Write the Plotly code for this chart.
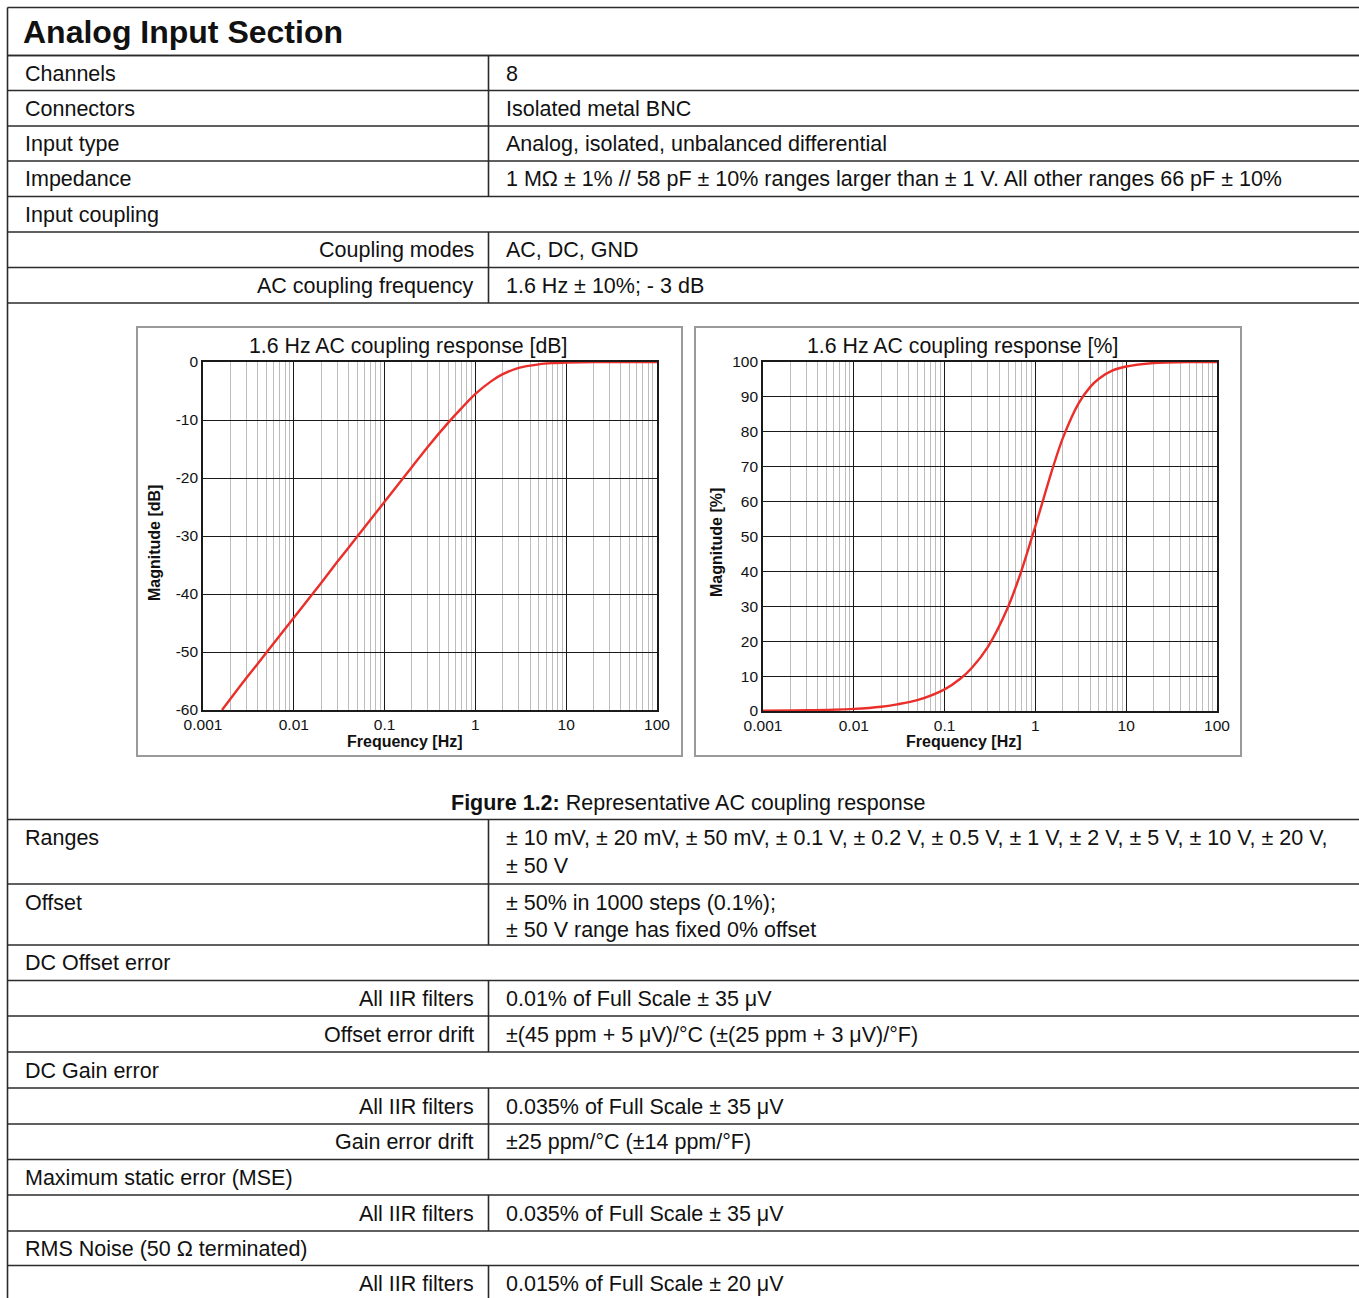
import plotly.graph_objects as go

W, H = 1359, 1298
FONT = "Liberation Sans, Arial, sans-serif"

# ---- AC coupling response curves ----
freq_db = [0.00162, 0.002, 0.003, 0.005, 0.01, 0.02, 0.03, 0.05, 0.1, 0.2, 0.3,
           0.5, 0.7, 1, 1.5, 2, 3, 5, 7, 10, 20, 50, 100]
mag_db = [-60, -58.1, -54.5, -50.1, -44.1, -38.1, -34.5, -30.1, -24.1, -18.1, -14.6,
          -10.5, -8.0, -5.5, -3.3, -2.1, -1.0, -0.4, -0.2, -0.1, -0.03, 0, 0]

freq_pct = [0.001, 0.003, 0.01, 0.02, 0.03, 0.05, 0.1, 0.15, 0.2, 0.3, 0.5, 0.7,
            1, 1.5, 2, 3, 4, 5, 7, 10, 20, 50, 100]
mag_pct = [0.1, 0.2, 0.6, 1.2, 1.9, 3.1, 6.2, 9.3, 12.4, 18.4, 29.8, 40.1,
           53.0, 68.4, 78.1, 88.2, 92.8, 95.2, 97.5, 98.7, 99.7, 100, 100]

freq_ticks = [0.001, 0.01, 0.1, 1, 10, 100]
freq_tick_labels = ["0.001", "0.01", "0.1", "1", "10", "100"]
db_ticks = [0, -10, -20, -30, -40, -50, -60]
db_tick_labels = ["0", "-10", "-20", "-30", "-40", "-50", "-60"]
pct_ticks = [0, 10, 20, 30, 40, 50, 60, 70, 80, 90, 100]
pct_tick_labels = ["0", "10", "20", "30", "40", "50", "60", "70", "80", "90", "100"]

chart_titles = ["1.6 Hz AC coupling response [dB]", "1.6 Hz AC coupling response [%]"]
y_titles = ["Magnitude [dB]", "Magnitude [%]"]
x_title = "Frequency [Hz]"
caption_bold = "Figure 1.2:"
caption_text = " Representative AC coupling response"

# ---- specification table ----
header = "Analog Input Section"
# (kind, label, value lines, top, bottom)
upper_rows = [
    ("main", "Channels", ["8"], 55.5, 90.5),
    ("main", "Connectors", ["Isolated metal BNC"], 90.5, 126),
    ("main", "Input type", ["Analog, isolated, unbalanced differential"], 126, 161),
    ("main", "Impedance", ["1 MΩ ± 1% // 58 pF ± 10% ranges larger than ± 1 V. All other ranges 66 pF ± 10%"], 161, 196.5),
    ("full", "Input coupling", [], 196.5, 232),
    ("sub", "Coupling modes", ["AC, DC, GND"], 232, 267.5),
    ("sub", "AC coupling frequency", ["1.6 Hz ± 10%; - 3 dB"], 267.5, 303),
]
lower_rows = [
    ("main", "Ranges", ["± 10 mV, ± 20 mV, ± 50 mV, ± 0.1 V, ± 0.2 V, ± 0.5 V, ± 1 V, ± 2 V, ± 5 V, ± 10 V, ± 20 V,",
                        "± 50 V"], 819.5, 884),
    ("main", "Offset", ["± 50% in 1000 steps (0.1%);", "± 50 V range has fixed 0% offset"], 884, 945),
    ("full", "DC Offset error", [], 945, 980.5),
    ("sub", "All IIR filters", ["0.01% of Full Scale ± 35 μV"], 980.5, 1016),
    ("sub", "Offset error drift", ["±(45 ppm + 5 μV)/°C (±(25 ppm + 3 μV)/°F)"], 1016, 1052),
    ("full", "DC Gain error", [], 1052, 1088),
    ("sub", "All IIR filters", ["0.035% of Full Scale ± 35 μV"], 1088, 1124),
    ("sub", "Gain error drift", ["±25 ppm/°C (±14 ppm/°F)"], 1124, 1159.5),
    ("full", "Maximum static error (MSE)", [], 1159.5, 1195),
    ("sub", "All IIR filters", ["0.035% of Full Scale ± 35 μV"], 1195, 1231),
    ("full", "RMS Noise (50 Ω terminated)", [], 1231, 1265.5),
    ("sub", "All IIR filters", ["0.015% of Full Scale ± 20 μV"], 1265.5, 1302),
]


def px(x):
    return x / W


def py(y):
    return 1 - min(y, H) / H


fig = go.Figure()
fig.add_trace(go.Scatter(x=freq_db, y=mag_db, mode="lines", xaxis="x", yaxis="y",
                         line=dict(color="#ea2e2a", width=2.4, shape="spline", smoothing=0.8),
                         showlegend=False, hoverinfo="skip"))
fig.add_trace(go.Scatter(x=freq_pct, y=mag_pct, mode="lines", xaxis="x2", yaxis="y2",
                         line=dict(color="#ea2e2a", width=2.4, shape="spline", smoothing=0.8),
                         showlegend=False, hoverinfo="skip"))

minor_vals = [m * 10 ** e for e in range(-3, 2) for m in range(2, 10)]


def x_axis(domain, anchor):
    return dict(type="log", range=[-3, 2], domain=domain, anchor=anchor, automargin=False,
                tickmode="array", tickvals=freq_ticks, ticktext=freq_tick_labels,
                showgrid=True, gridcolor="#1a1a1a", gridwidth=1.4,
                minor=dict(tickmode="array", tickvals=minor_vals, showgrid=True,
                           gridcolor="#bdbdbd", gridwidth=1),
                showline=True, mirror=True, linecolor="#1a1a1a", linewidth=1.6,
                ticks="", zeroline=False, fixedrange=True,
                tickfont=dict(family=FONT, size=15.5, color="#111"))


def y_axis(domain, anchor, rng, ticks, labels):
    return dict(range=rng, domain=domain, anchor=anchor, automargin=False,
                tickmode="array", tickvals=ticks, ticktext=labels,
                showgrid=True, gridcolor="#1a1a1a", gridwidth=1.4,
                showline=True, mirror=True, linecolor="#1a1a1a", linewidth=1.6,
                ticks="", zeroline=False, fixedrange=True,
                tickfont=dict(family=FONT, size=15.5, color="#111"))


fig.update_layout(
    width=W, height=H, autosize=False,
    margin=dict(l=0, r=0, t=0, b=0, pad=0, autoexpand=False),
    paper_bgcolor="white", plot_bgcolor="white",
    font=dict(family=FONT, color="#111"),
    xaxis=x_axis([px(203), px(657)], "y"),
    yaxis=y_axis([py(710), py(362)], "x", [-60, 0], db_ticks, db_tick_labels),
    xaxis2=x_axis([px(763), px(1217)], "y2"),
    yaxis2=y_axis([py(711), py(362)], "x2", [0, 100], pct_ticks, pct_tick_labels),
)

shapes = []
annotations = []
LINE = dict(color="#2b2b2b", width=1.6)


def hline(y, x0=7.5, x1=W):
    if y >= H:
        return
    shapes.append(dict(type="line", xref="paper", yref="paper",
                       x0=px(x0), x1=px(x1), y0=py(y), y1=py(y), line=LINE))


def vline(x, y0, y1):
    shapes.append(dict(type="line", xref="paper", yref="paper",
                       x0=px(x), x1=px(x), y0=py(y0), y1=py(y1), line=LINE))


def text(x, y, s, size=21.5, xanchor="left", **kw):
    annotations.append(dict(x=px(x), y=py(y), xref="paper", yref="paper", text=s,
                            showarrow=False, xanchor=xanchor, yanchor="middle",
                            font=dict(family=FONT, size=size, color="#111"), **kw))


# outer frame and header
hline(7.5)
vline(7.5, 7.5, H)
text(21, 32, "<b>" + header + "</b>", size=32)
hline(55.5)

COL = 488.5
for rows in (upper_rows, lower_rows):
    hline(rows[0][3])
    for kind, label, values, top, bottom in rows:
        hline(bottom)
        first = top + 18.5 if len(values) > 1 else (top + bottom) / 2 + 0.5
        if kind == "sub":
            text(475.5, first, label, xanchor="right")
        else:
            text(22.5, first, label)
        if kind != "full":
            vline(COL, top, bottom)
            for i, v in enumerate(values):
                text(503.5, first + i * 27.5, v)

# chart frames, titles and axis titles
for (bx0, bx1) in [(137, 682), (695, 1241)]:
    shapes.append(dict(type="rect", xref="paper", yref="paper",
                       x0=px(bx0), x1=px(bx1), y0=py(327), y1=py(756),
                       line=dict(color="#9a9a9a", width=2), layer="below"))
for i, (cx, ytx) in enumerate([(408, 154), (963, 716)]):
    text(cx, 346, chart_titles[i], size=21.3, xanchor="center")
    text(cx - 3 if i == 0 else cx + 1, 741, "<b>" + x_title + "</b>", size=16, xanchor="center")
    text(ytx, 543, "<b>" + y_titles[i] + "</b>", size=16, xanchor="center", textangle=-90)

text(688, 803, "<b>" + caption_bold + "</b>" + caption_text, size=21.5, xanchor="center")

fig.update_layout(shapes=shapes, annotations=annotations)
fig.write_html("out.html")
